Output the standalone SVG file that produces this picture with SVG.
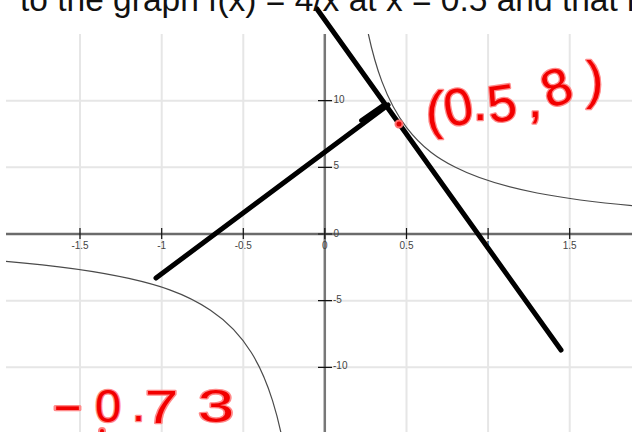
<svg xmlns="http://www.w3.org/2000/svg" width="632" height="432" viewBox="0 0 632 432">
<style>
.grid{stroke:#e6e6e6;stroke-width:2;fill:none}
.axis{stroke:#6b6b6b;stroke-width:2.5;fill:none}
.tick{stroke:#111;stroke-width:1.2}
.lbl{font-family:"Liberation Sans",Arial,sans-serif;font-size:10px;fill:#444}
.xl{text-anchor:middle}
.curve{stroke:#4a4a4a;stroke-width:1.2;fill:none}
.pen{stroke:#000;stroke-width:5;stroke-linecap:round;stroke-linejoin:round;fill:none}
.hand{font-family:"Liberation Sans",Arial,sans-serif;fill:#f20000;stroke:#ff8a8a;stroke-width:2.6;stroke-linejoin:round;paint-order:stroke fill}
.title{font-family:"Liberation Sans",Arial,sans-serif;font-size:33.5px;fill:#111}
</style>
<defs>
<clipPath id="chart"><rect x="6" y="34" width="626" height="398"/></clipPath>
</defs>
<rect width="632" height="432" fill="#fff"/>
<g id="grid" clip-path="url(#chart)">
<path class="grid" d="M80,34V432M161.7,34V432M243.3,34V432M406.5,34V432M488.1,34V432M569.7,34V432M6,100.7H632M6,167.3H632M6,300.7H632M6,367.3H632"/>
</g>
<g id="axes">
<path class="axis" d="M6,234H632"/>
<path class="axis" d="M324.8,34V432" style="stroke:#777"/>
<path class="tick" d="M80,228V239M161.7,228V239M243.3,228V239M324.8,228V239M406.5,228V239M488.1,228V239M569.7,228V239"/>
<path class="tick" d="M318,100.7H332M318,167.3H332M318,234H332M318,300.7H332M318,367.3H332"/>
</g>
<g id="labels">
<text class="lbl xl" x="80" y="248.5">-1.5</text>
<text class="lbl xl" x="161.7" y="248.5">-1</text>
<text class="lbl xl" x="243.3" y="248.5">-0.5</text>
<text class="lbl xl" x="324.8" y="248.5">0</text>
<text class="lbl xl" x="406.5" y="248.5">0.5</text>
<text class="lbl xl" x="488.1" y="248.5">1</text>
<text class="lbl xl" x="569.7" y="248.5">1.5</text>
<text class="lbl" x="333.5" y="102.5">10</text>
<text class="lbl" x="333.5" y="169">5</text>
<text class="lbl" x="333.5" y="236.5">0</text>
<text class="lbl" x="333" y="302.8">-5</text>
<text class="lbl" x="333" y="369">-10</text>
</g>
<g id="function" clip-path="url(#chart)">
<path class="curve" d="M368.35,34 C372.89,54.83 377.42,69.54 381.96,81.63 C390.13,103.4 398.29,116.66 406.45,127.33 C422.78,148.66 439.11,159 455.44,167.33 C482.66,181.22 509.87,187.72 537.09,192.98 C568.72,199.09 600.37,202.73 632,205.65"/>
<path class="curve" d="M-1.8,260.67 C41.75,264.22 85.29,268.56 128.84,278.44 C156.06,284.61 183.27,292.05 210.49,310.19 C224.1,319.26 237.7,330.57 251.31,352.52 C258.39,363.93 265.46,378.1 272.54,400.67 C275.81,411.09 279.07,423.35 282.34,439.13"/>
</g>
<g id="connectors">
<path id="tangent" class="pen" d="M317,9L561,350"/>
<path id="normal" class="pen" d="M156,278L388,105"/>
<path class="pen" d="M361,120.5L384,104.5" style="stroke-width:4"/>
</g>
<g id="annotations">
<circle cx="399" cy="124" r="3.5" fill="#e00000" stroke="#ff7070" stroke-width="2"/>
<text class="hand" font-size="52" x="426 447 473 490 528 549 586" y="128 127 119.5 123 117 109 98" rotate="0 -10 0 -8 0 -20 0">(0.5,8)</text>
<text class="hand" font-size="47"><tspan x="52" y="420.5" textLength="31" lengthAdjust="spacingAndGlyphs">-</tspan><tspan x="95" y="422">0</tspan><tspan x="132" y="421">.</tspan><tspan x="145" y="423" textLength="33" lengthAdjust="spacingAndGlyphs">7</tspan><tspan x="198" y="422" textLength="36" lengthAdjust="spacingAndGlyphs">3</tspan></text>
<circle cx="102" cy="431" r="3" fill="#f20000" stroke="#ff8080" stroke-width="2"/>
</g>
<text id="title" class="title" x="20" y="10.5">to the graph f(x) = 4/x at x = 0.5 and that i</text>
</svg>
